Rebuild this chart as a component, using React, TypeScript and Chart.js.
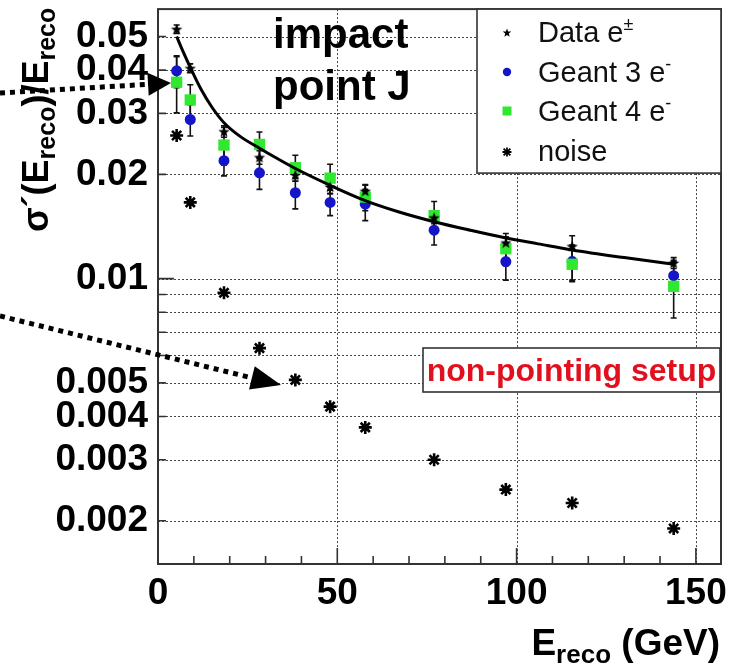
import React, { useEffect, useRef } from "react";
import { Chart, registerables } from "chart.js";
Chart.register(...registerables);

const energies = [5.2, 9.0, 18.4, 28.3, 38.3, 48.0, 57.8, 77.0, 97.0, 115.5, 143.8];
const dataValues = [0.0525, 0.0405, 0.0266, 0.0224, 0.0199, 0.0184, 0.0179, 0.015, 0.0127, 0.0124, 0.0111];
const dataErrors = [0.0015, 0.0012, 0.001, 0.001, 0.0008, 0.0008, 0.0007, 0.0006, 0.0005, 0.0009, 0.0004];
const geant3Values = [0.0398, 0.0288, 0.0219, 0.0202, 0.0177, 0.0166, 0.0164, 0.0138, 0.0112, 0.0112, 0.0102];
const geant3Errors = [0.0042, 0.003, 0.0021, 0.0021, 0.0018, 0.0014, 0.0017, 0.0013, 0.0013, 0.0013, 0.001];
const geant4Values = [0.0369, 0.0328, 0.0243, 0.0244, 0.0209, 0.0195, 0.0172, 0.0152, 0.0122, 0.011, 0.0095];
const geant4Errors = [0.0068, 0.0035, 0.003, 0.0021, 0.0018, 0.0019, 0.0015, 0.0015, 0.0013, 0.0012, 0.0018];
const noiseValues = [0.0259, 0.0166, 0.0091, 0.0063, 0.0051, 0.00427, 0.00372, 0.003, 0.00246, 0.00225, 0.0019];

const fitEnergies = [5.2, 7, 9, 12, 15, 18.4, 23, 28.3, 33, 38.3, 48, 57.8, 67, 77, 87, 97, 106, 115.5, 130, 143.8];
const fitValues = [0.05, 0.0452, 0.0407, 0.0352, 0.0313, 0.0282, 0.0257, 0.0238, 0.0223, 0.0208, 0.0186, 0.0168, 0.0156, 0.0146, 0.0138, 0.0131, 0.0126, 0.0121, 0.0115, 0.011];

const xTickValues = [0, 50, 100, 150];
const xMinorTicks = [10, 20, 30, 40, 60, 70, 80, 90, 110, 120, 130, 140];
const xGridValues = [50, 100, 150];
const yTickValues = [0.002, 0.003, 0.004, 0.005, 0.01, 0.02, 0.03, 0.04, 0.05];
const yTickLabels = ["0.002", "0.003", "0.004", "0.005", "0.01", "0.02", "0.03", "0.04", "0.05"];
const yGridValues = [0.002, 0.003, 0.004, 0.005, 0.006, 0.007, 0.008, 0.009, 0.01, 0.02, 0.03, 0.04, 0.05];

const legendLabels = ["Data e", "Geant 3 e", "Geant 4 e", "noise"];
const legendSups = ["\u00b1", "-", "-", ""];
const annotationLines = ["impact", "point J"];
const setupLabel = "non-pointing setup";

const FONT = '"Liberation Sans", Arial, Helvetica, sans-serif';
const BLUE = "#1414c8";
const GREEN = "#2fe82f";
const RED = "#e0101e";

function starPath(ctx: CanvasRenderingContext2D, cx: number, cy: number, R: number, r: number) {
  ctx.beginPath();
  for (let k = 0; k < 10; k++) {
    const ang = -Math.PI / 2 + (k * Math.PI) / 5;
    const rad = k % 2 === 0 ? R : r;
    ctx.lineTo(cx + rad * Math.cos(ang), cy + rad * Math.sin(ang));
  }
  ctx.closePath();
}

function asterisk(ctx: CanvasRenderingContext2D, cx: number, cy: number, r: number) {
  ctx.beginPath();
  ctx.moveTo(cx - r, cy); ctx.lineTo(cx + r, cy);
  ctx.moveTo(cx, cy - r); ctx.lineTo(cx, cy + r);
  const d = r * 0.75;
  ctx.moveTo(cx - d, cy - d); ctx.lineTo(cx + d, cy + d);
  ctx.moveTo(cx - d, cy + d); ctx.lineTo(cx + d, cy - d);
  ctx.stroke();
}

type Part = { t: string; font: string; dy: number };
function richWidth(ctx: CanvasRenderingContext2D, parts: Part[]) {
  let w = 0;
  for (const p of parts) { ctx.font = p.font; w += ctx.measureText(p.t).width; }
  return w;
}
function drawRich(ctx: CanvasRenderingContext2D, parts: Part[], x: number, y: number) {
  let cx = x;
  ctx.textAlign = "left";
  ctx.textBaseline = "alphabetic";
  for (const p of parts) {
    ctx.font = p.font;
    ctx.fillText(p.t, cx, y + p.dy);
    cx += ctx.measureText(p.t).width;
  }
}

function dottedArrow(ctx: CanvasRenderingContext2D, x0: number, y0: number, tx: number, ty: number, headLen: number, headHalf: number) {
  const dx = tx - x0, dy = ty - y0;
  const L = Math.hypot(dx, dy);
  const ux = dx / L, uy = dy / L;
  const bx = tx - ux * headLen, by = ty - uy * headLen;
  ctx.save();
  ctx.strokeStyle = "#000";
  ctx.lineWidth = 5;
  ctx.setLineDash([5, 5]);
  ctx.beginPath();
  ctx.moveTo(x0, y0);
  ctx.lineTo(bx, by);
  ctx.stroke();
  ctx.setLineDash([]);
  ctx.fillStyle = "#000";
  ctx.beginPath();
  ctx.moveTo(tx, ty);
  ctx.lineTo(bx - uy * headHalf, by + ux * headHalf);
  ctx.lineTo(bx + uy * headHalf, by - ux * headHalf);
  ctx.closePath();
  ctx.fill();
  ctx.restore();
}

const decor = {
  id: "decor",
  beforeDatasetsDraw(chart: any) {
    const { ctx, chartArea: a, scales } = chart;
    const x = scales.x, y = scales.y;
    ctx.save();
    ctx.strokeStyle = "#444";
    ctx.lineWidth = 1;
    ctx.setLineDash([2, 2]);
    for (const v of yGridValues) {
      const py = Math.round(y.getPixelForValue(v)) + 0.5;
      ctx.beginPath(); ctx.moveTo(a.left, py); ctx.lineTo(a.right, py); ctx.stroke();
    }
    for (const v of xGridValues) {
      const px = Math.round(x.getPixelForValue(v)) + 0.5;
      ctx.beginPath(); ctx.moveTo(px, a.top); ctx.lineTo(px, a.bottom); ctx.stroke();
    }
    ctx.setLineDash([]);
    ctx.strokeStyle = "#111";
    ctx.lineWidth = 1.6;
    const series: [number[], number[]][] = [
      [dataValues, dataErrors],
      [geant3Values, geant3Errors],
      [geant4Values, geant4Errors],
    ];
    for (const [vals, errs] of series) {
      vals.forEach((v, i) => {
        const px = x.getPixelForValue(energies[i]);
        const pt = y.getPixelForValue(v + errs[i]);
        const pb = y.getPixelForValue(v - errs[i]);
        ctx.beginPath();
        ctx.moveTo(px, pt); ctx.lineTo(px, pb);
        ctx.moveTo(px - 3, pt); ctx.lineTo(px + 3, pt);
        ctx.moveTo(px - 3, pb); ctx.lineTo(px + 3, pb);
        ctx.stroke();
      });
    }
    ctx.restore();
  },
  afterDatasetsDraw(chart: any) {
    const { ctx, chartArea: a, scales } = chart;
    const x = scales.x, y = scales.y;
    ctx.save();
    ctx.strokeStyle = "#333";
    ctx.lineWidth = 2;
    ctx.strokeRect(a.left, a.top, a.right - a.left, a.bottom - a.top);
    ctx.lineWidth = 1.6;
    ctx.beginPath();
    for (const v of xMinorTicks) {
      const px = x.getPixelForValue(v);
      ctx.moveTo(px, a.bottom); ctx.lineTo(px, a.bottom - 8);
    }
    for (const v of xTickValues) {
      const px = x.getPixelForValue(v);
      ctx.moveTo(px, a.bottom); ctx.lineTo(px, a.bottom - 16);
    }
    for (const v of yGridValues) {
      const py = y.getPixelForValue(v);
      const len = Math.abs(v - 0.01) < 1e-9 ? 16 : 8;
      ctx.moveTo(a.left, py); ctx.lineTo(a.left + len, py);
    }
    ctx.stroke();

    // legend box
    const lx = 477, ly = a.top, lw = a.right - 477, lh = 164;
    ctx.fillStyle = "#fff";
    ctx.fillRect(lx, ly, lw, lh);
    ctx.strokeStyle = "#333";
    ctx.lineWidth = 1.6;
    ctx.strokeRect(lx, ly, lw, lh);
    const rowBase = [42, 82, 121, 161];
    const markY = [33, 72, 111, 152];
    legendLabels.forEach((lab, i) => {
      ctx.fillStyle = "#111";
      const parts: Part[] = [{ t: lab, font: `29px ${FONT}`, dy: 0 }];
      if (legendSups[i]) parts.push({ t: legendSups[i], font: `18px ${FONT}`, dy: -12 });
      drawRich(ctx, parts, 538, rowBase[i]);
      const mx = 507, my = markY[i];
      if (i === 0) { ctx.fillStyle = "#000"; starPath(ctx, mx, my, 4.5, 1.9); ctx.fill(); }
      if (i === 1) { ctx.fillStyle = BLUE; ctx.beginPath(); ctx.arc(mx, my, 4.2, 0, Math.PI * 2); ctx.fill(); }
      if (i === 2) { ctx.fillStyle = GREEN; ctx.fillRect(mx - 4.5, my - 4.5, 9, 9); }
      if (i === 3) { ctx.strokeStyle = "#000"; ctx.lineWidth = 1.8; asterisk(ctx, mx, my, 4.5); }
    });

    // impact point J
    ctx.fillStyle = "#000";
    ctx.font = `bold 42px ${FONT}`;
    ctx.textAlign = "left";
    ctx.textBaseline = "alphabetic";
    ctx.fillText(annotationLines[0], 273, 48);
    ctx.fillText(annotationLines[1], 273, 100);

    // non-pointing setup box
    ctx.fillStyle = "#fff";
    ctx.fillRect(423, 348, 297, 44);
    ctx.strokeStyle = "#333";
    ctx.lineWidth = 1.6;
    ctx.strokeRect(423, 348, 297, 44);
    ctx.fillStyle = RED;
    ctx.font = `bold 32px ${FONT}`;
    ctx.textAlign = "center";
    ctx.fillText(setupLabel, 571.5, 381);

    // arrows
    dottedArrow(ctx, 0, 93, 171, 83, 23, 11.5);
    dottedArrow(ctx, 0, 316, 281, 385, 30, 12);

    // x title
    ctx.fillStyle = "#000";
    const xParts: Part[] = [
      { t: "E", font: `bold 37px ${FONT}`, dy: 0 },
      { t: "reco", font: `bold 26px ${FONT}`, dy: 8 },
      { t: " (GeV)", font: `bold 37px ${FONT}`, dy: 0 },
    ];
    const xw = richWidth(ctx, xParts);
    drawRich(ctx, xParts, 720 - xw, 655);

    // y title
    const yParts: Part[] = [
      { t: "\u03c3\u00b4(E", font: `bold 36px ${FONT}`, dy: 0 },
      { t: "reco", font: `bold 25px ${FONT}`, dy: 7 },
      { t: ")/E", font: `bold 36px ${FONT}`, dy: 0 },
      { t: "reco", font: `bold 25px ${FONT}`, dy: 7 },
    ];
    ctx.translate(48, 232);
    ctx.rotate(-Math.PI / 2);
    drawRich(ctx, yParts, 0, 0);
    ctx.restore();
  },
};

export default function App() {
  const ref = useRef<HTMLCanvasElement | null>(null);
  useEffect(() => {
    const canvas = ref.current;
    if (!canvas) return;
    const starImg = document.createElement("canvas");
    starImg.width = 14; starImg.height = 14;
    const sctx = starImg.getContext("2d")!;
    sctx.fillStyle = "#000";
    starPath(sctx, 7, 7.5, 6, 2.5);
    sctx.fill();

    const pts = (vals: number[]) => vals.map((v, i) => ({ x: energies[i], y: v }));
    const chart = new Chart(canvas, {
      type: "scatter",
      data: {
        datasets: [
          {
            type: "line",
            label: "fit",
            data: fitValues.map((v, i) => ({ x: fitEnergies[i], y: v })),
            borderColor: "#000",
            borderWidth: 3,
            pointRadius: 0,
            cubicInterpolationMode: "monotone",
            fill: false,
            order: 0,
          } as any,
          {
            label: "Data e\u00b1",
            data: pts(dataValues),
            pointStyle: starImg as any,
            pointRadius: 6,
            order: 1,
          },
          {
            label: "Geant 4 e-",
            data: pts(geant4Values),
            pointStyle: "rect",
            pointRadius: 8,
            backgroundColor: GREEN,
            borderWidth: 0,
            order: 2,
          },
          {
            label: "Geant 3 e-",
            data: pts(geant3Values),
            pointStyle: "circle",
            pointRadius: 5.5,
            backgroundColor: BLUE,
            borderWidth: 0,
            order: 3,
          },
          {
            label: "noise",
            data: pts(noiseValues),
            pointStyle: "star",
            pointRadius: 6.5,
            borderColor: "#000",
            borderWidth: 2.6,
            order: 4,
          },
        ],
      },
      options: {
        responsive: false,
        animation: false,
        devicePixelRatio: 1,
        layout: { padding: { top: 9, right: 18, left: 0, bottom: 0 } },
        plugins: { legend: { display: false }, tooltip: { enabled: false } },
        scales: {
          x: {
            type: "linear",
            min: 0,
            max: 157,
            afterBuildTicks: (s: any) => { s.ticks = xTickValues.map((v) => ({ value: v })); },
            afterFit: (s: any) => { s.height = 102; s.paddingLeft = 0; s.paddingRight = 0; },
            grid: { display: false, drawTicks: false },
            border: { display: false },
            ticks: {
              color: "#000",
              font: { family: FONT, size: 37, weight: "bold" },
              padding: 8,
              maxRotation: 0,
              autoSkip: false,
              callback: (v: any) => String(v),
            },
          },
          y: {
            type: "logarithmic",
            min: 0.0015,
            max: 0.06,
            afterBuildTicks: (s: any) => { s.ticks = yTickValues.map((v) => ({ value: v })); },
            afterFit: (s: any) => { s.width = 158; s.paddingTop = 0; s.paddingBottom = 0; },
            grid: { display: false, drawTicks: false },
            border: { display: false },
            ticks: {
              color: "#000",
              font: { family: FONT, size: 37, weight: "bold" },
              padding: 10,
              autoSkip: false,
              callback: (v: any) => {
                const idx = yTickValues.findIndex((t) => Math.abs(t - Number(v)) < 1e-9);
                return idx >= 0 ? yTickLabels[idx] : "";
              },
            },
          },
        },
      },
      plugins: [decor],
    } as any);
    return () => chart.destroy();
  }, []);
  return (
    <div style={{ position: "fixed", left: 0, top: 0, width: 739, height: 666, background: "#fff" }}>
      <canvas ref={ref} width={739} height={666} style={{ display: "block", width: 739, height: 666 }} />
    </div>
  );
}
